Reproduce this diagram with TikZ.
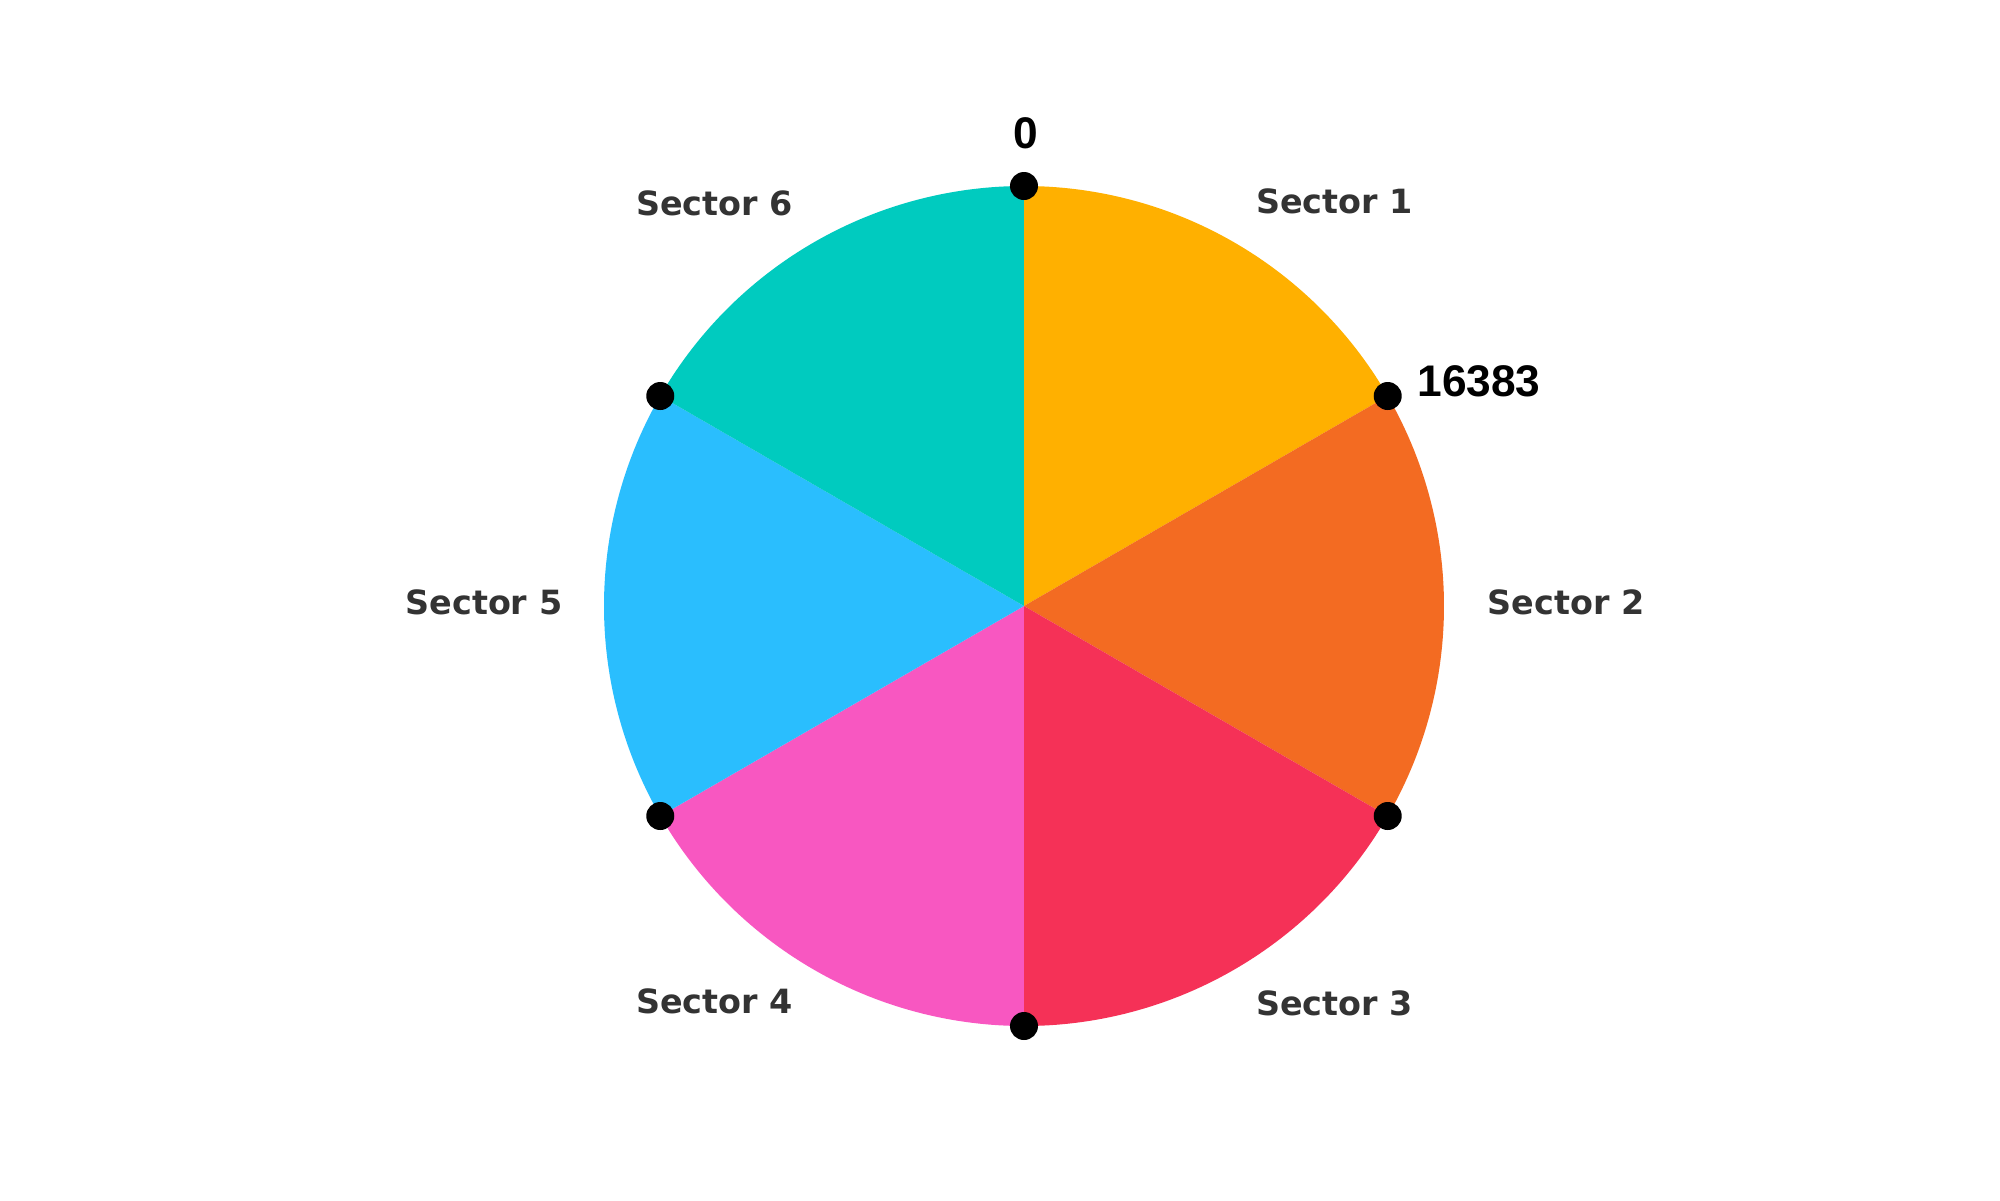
\documentclass[tikz,border=0pt]{standalone}
\usepackage{fontspec}
\usepackage{tikz}
\setmainfont{DejaVu Sans}
\newfontfamily\numfont{Liberation Sans}
\definecolor{secone}{HTML}{FFB000}
\definecolor{sectwo}{HTML}{F36B22}
\definecolor{secthree}{HTML}{F53157}
\definecolor{secfour}{HTML}{F857C1}
\definecolor{secfive}{HTML}{2ABEFE}
\definecolor{secsix}{HTML}{00CBBF}
\definecolor{labelgray}{HTML}{333333}
\newcommand{\secfont}{\fontsize{9.5}{12}\selectfont\bfseries}
\newcommand{\numlabelfont}{\numfont\bfseries\fontsize{12.6}{15}\selectfont}

\begin{document}
\begin{tikzpicture}[
  dot/.style={circle, fill=black, inner sep=0pt, minimum size=0.28cm},
  seclabel/.style={text=labelgray, inner sep=0pt, font=\secfont, yshift=0.035cm}]
\useasboundingbox (-10.24,-5.94) rectangle (9.76,6.06);

% sectors
\fill[secone]   (0,0) -- (90:4.2)  arc[start angle=90,  end angle=30,  radius=4.2] -- cycle;
\fill[sectwo]   (0,0) -- (30:4.2)  arc[start angle=30,  end angle=-30, radius=4.2] -- cycle;
\fill[secthree] (0,0) -- (-30:4.2) arc[start angle=-30, end angle=-90, radius=4.2] -- cycle;
\fill[secfour]  (0,0) -- (-90:4.2) arc[start angle=-90, end angle=-150, radius=4.2] -- cycle;
\fill[secfive]  (0,0) -- (210:4.2) arc[start angle=210, end angle=150, radius=4.2] -- cycle;
\fill[secsix]   (0,0) -- (150:4.2) arc[start angle=150, end angle=90, radius=4.2] -- cycle;

% boundary points
\node[dot] (ptop)   at (90:4.2)  {};
\node[dot] (pone)   at (30:4.2)  {};
\node[dot] (ptwo)   at (-30:4.2) {};
\node[dot] (pbot)   at (-90:4.2) {};
\node[dot] (pfour)  at (210:4.2) {};
\node[dot] (pfive)  at (150:4.2) {};

% values
\node[anchor=base, inner sep=0pt, font=\numlabelfont] (zero) at (0.02,4.58) {0};
\node[anchor=base west, inner sep=0pt, font=\numlabelfont] (maxval) at ([xshift=0.29cm, yshift=0.0cm]pone.center) {16383};

% sector names
\node[seclabel, anchor=west] (sone)   at (60:4.63)  {Sector 1};
\node[seclabel, anchor=west] (stwo)   at (0:4.63)   {Sector 2};
\node[seclabel, anchor=west] (sthree) at (-60:4.63) {Sector 3};
\node[seclabel, anchor=east] (sfour)  at (240:4.61) {Sector 4};
\node[seclabel, anchor=east] (sfive)  at (180:4.61) {Sector 5};
\node[seclabel, anchor=east] (ssix)   at (120:4.61) {Sector 6};
\end{tikzpicture}
\end{document}
